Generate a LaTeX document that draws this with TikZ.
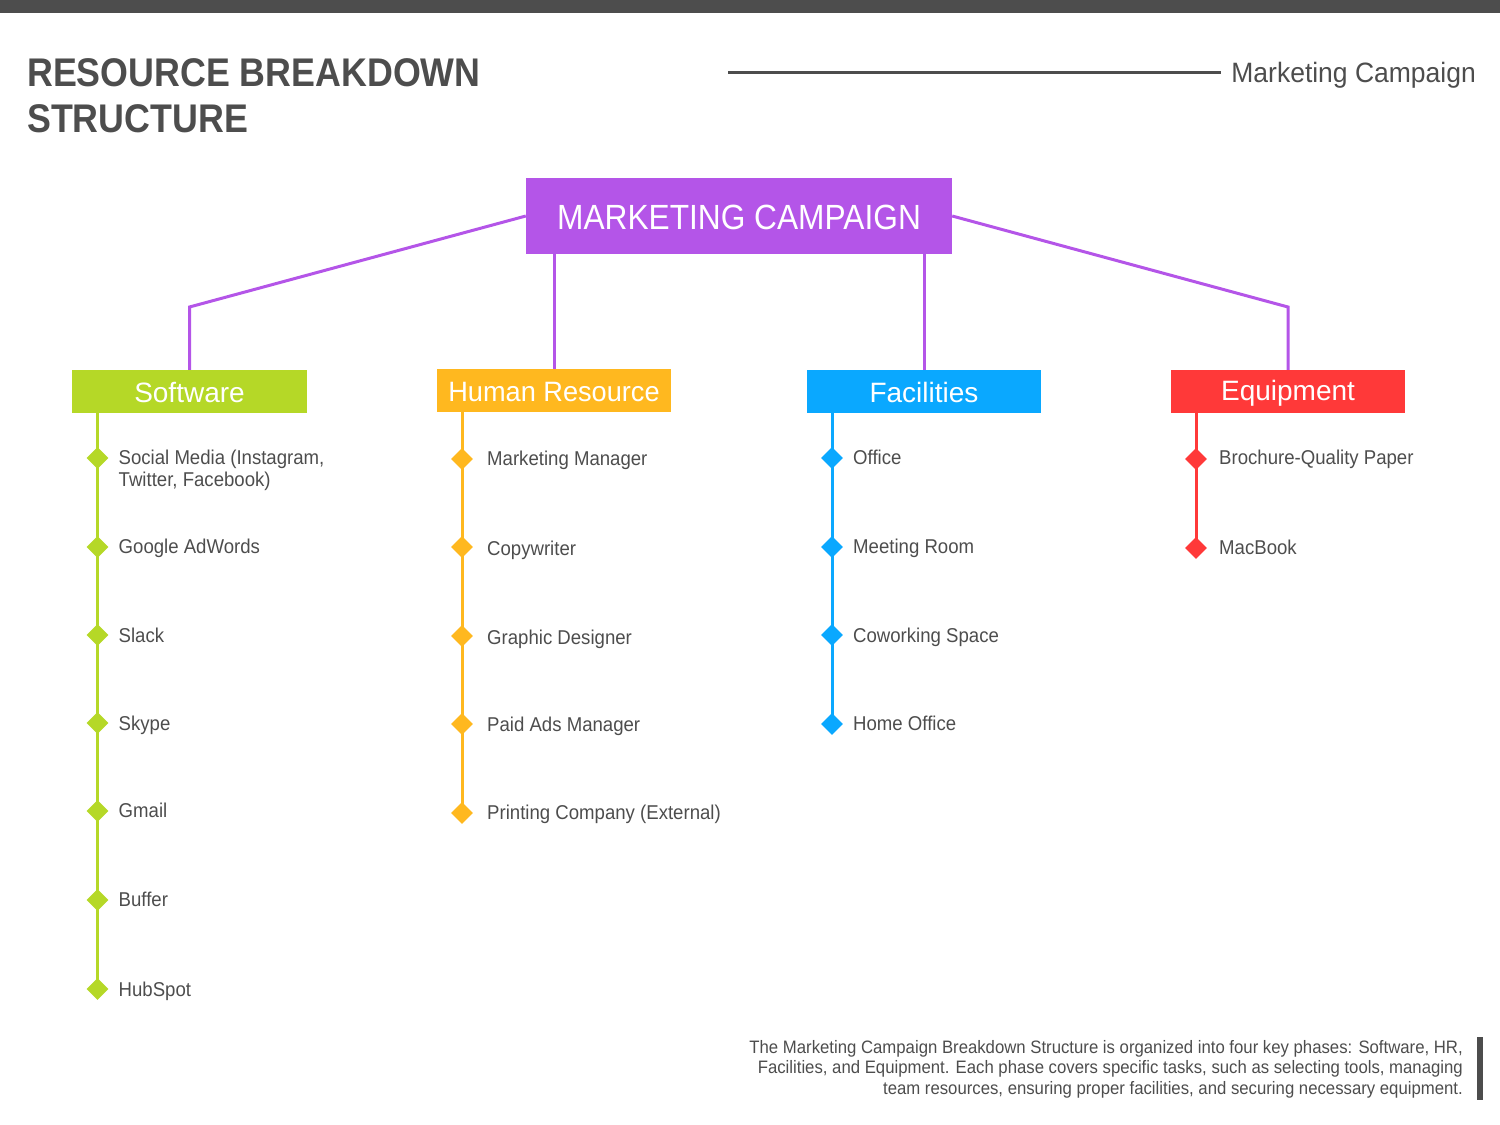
\documentclass[tikz,border=0pt]{standalone}
\usepackage{fontspec}
\setmainfont[FakeStretch=0.93]{Liberation Sans}
\newfontfamily\fhead{Liberation Sans}
\newfontfamily\fhr[FakeStretch=0.97]{Liberation Sans}
\newfontfamily\froot[FakeStretch=0.905]{Liberation Sans}
\newfontfamily\ftitle[FakeStretch=0.895]{Liberation Sans}
\newfontfamily\fsub[FakeStretch=0.946]{Liberation Sans}
\usetikzlibrary{shapes.geometric}
\definecolor{ink}{HTML}{4D4D4D}
\definecolor{cpur}{HTML}{B455E8}
\definecolor{cgrn}{HTML}{B5D827}
\definecolor{cyel}{HTML}{FFB81F}
\definecolor{cblu}{HTML}{0AA8FF}
\definecolor{cred}{HTML}{FF3939}
\newcommand{\fs}[2]{\fontsize{#1}{#2}\selectfont}
\tikzset{
 x=1pt,y=-1pt,
 head/.style={fill=#1,minimum width=234.5pt,text height=32pt,text depth=11pt,inner sep=0pt,text=white,font=\fhead\fs{28}{28}},
 dia/.style={diamond,fill=#1,minimum width=22pt,minimum height=22pt,inner sep=0pt,aspect=1},
 item/.style={anchor=base west,text=ink,font=\fs{20}{22},inner sep=0pt,align=left},
 link/.style={draw=cpur,line width=3pt},
 stem/.style={draw=#1,line width=3pt},
}
\begin{document}
\begin{tikzpicture}
\useasboundingbox (0,0) rectangle (1500,1125);
\fill[ink] (0,0) rectangle (1500,13);
\node[anchor=base west,inner sep=0pt,text=ink,font=\ftitle\bfseries\fs{40}{46},align=left] (title) at (27,132) {RESOURCE BREAKDOWN\\STRUCTURE};
\node[anchor=base east,inner sep=0pt,text=ink,font=\fsub\fs{28}{28}] (sub) at (1476,82) {Marketing Campaign};
\coordinate (rulestart) at (728,72);
\coordinate (ruleend) at (1221,72);
\draw[ink,line width=3pt] (rulestart) -- (ruleend);

\node[fill=cpur,anchor=base,minimum width=426pt,text height=51pt,text depth=25pt,inner sep=0pt,text=white,font=\froot\fs{35}{35}] (root) at (739,229) {MARKETING CAMPAIGN};

\node[head=cgrn,anchor=base] (sw) at (189.5,402) {Software};
\node[head=cyel,anchor=base,font=\fhr\fs{28}{28}] (hr) at (554,401) {Human Resource};
\node[head=cblu,anchor=base] (fa) at (924,402) {Facilities};
\node[head=cred,anchor=base,text height=30pt,text depth=13pt] (eq) at (1288,400) {Equipment};

\coordinate (bl) at (189.5,307);
\coordinate (br) at (1288,307);
\draw[link] (root.west) -- (bl) -- (sw.north);
\draw[link] (root.east) -- (br) -- (eq.north);
\draw[link] (hr.north |- root.south) -- (hr.north);
\draw[link] (fa.north |- root.south) -- (fa.north);

% Software
\coordinate (s0) at (97.5,413);
\node[dia=cgrn] (s1) at (97.5,458) {};
\node[dia=cgrn] (s2) at (97.5,547) {};
\node[dia=cgrn] (s3) at (97.5,635) {};
\node[dia=cgrn] (s4) at (97.5,723) {};
\node[dia=cgrn] (s5) at (97.5,811) {};
\node[dia=cgrn] (s6) at (97.5,900) {};
\node[dia=cgrn] (s7) at (97.5,989) {};
\draw[stem=cgrn] (s0) -- (s7.center);
\node[item] (st1) at (118.5,486) {Social Media (Instagram,\\Twitter, Facebook)};
\node[item] (st2) at (118.5,553.5) {Google AdWords};
\node[item] (st3) at (118.5,642.5) {Slack};
\node[item] (st4) at (118.5,730) {Skype};
\node[item] (st5) at (118.5,817.5) {Gmail};
\node[item] (st6) at (118.5,906.5) {Buffer};
\node[item] (st7) at (118.5,996) {HubSpot};

% HR
\coordinate (h0) at (462,412);
\node[dia=cyel] (h1) at (462,459) {};
\node[dia=cyel] (h2) at (462,547) {};
\node[dia=cyel] (h3) at (462,636) {};
\node[dia=cyel] (h4) at (462,724) {};
\node[dia=cyel] (h5) at (462,813) {};
\draw[stem=cyel] (h0) -- (h5.center);
\node[item] (ht1) at (487,465) {Marketing Manager};
\node[item] (ht2) at (487,555) {Copywriter};
\node[item] (ht3) at (487,644) {Graphic Designer};
\node[item] (ht4) at (487,731) {Paid Ads Manager};
\node[item] (ht5) at (487,819) {Printing Company (External)};

% Facilities
\coordinate (f0) at (832,413);
\node[dia=cblu] (f1) at (832,458) {};
\node[dia=cblu] (f2) at (832,547) {};
\node[dia=cblu] (f3) at (832,635) {};
\node[dia=cblu] (f4) at (832,724) {};
\draw[stem=cblu] (f0) -- (f4.center);
\node[item] (ft1) at (853,464) {Office};
\node[item] (ft2) at (853,553) {Meeting Room};
\node[item] (ft3) at (853,642) {Coworking Space};
\node[item] (ft4) at (853,730) {Home Office};

% Equipment
\coordinate (e0) at (1196,413);
\node[dia=cred] (e1) at (1196,459) {};
\node[dia=cred] (e2) at (1196,548) {};
\draw[stem=cred] (e0) -- (e2.center);
\node[item] (et1) at (1219,464) {Brochure-Quality Paper};
\node[item] (et2) at (1219,554) {MacBook};

\node[anchor=base east,inner sep=0pt,text=ink,align=right,font=\fs{18}{20.5}] (note) at (1463,1094) {The Marketing Campaign Breakdown Structure is organized into four key phases: Software, HR,\\Facilities, and Equipment. Each phase covers specific tasks, such as selecting tools, managing\\team resources, ensuring proper facilities, and securing necessary equipment.};
\fill[ink] (1477,1037) rectangle (1483,1100);
\end{tikzpicture}
\end{document}
